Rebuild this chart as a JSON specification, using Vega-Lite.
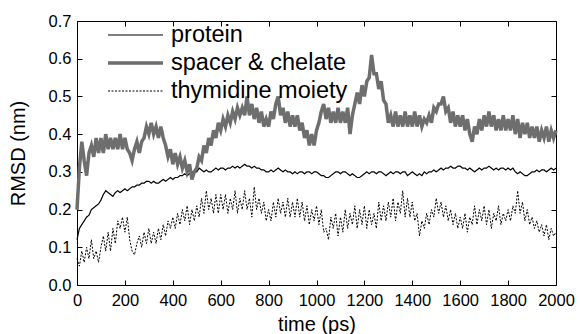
{
"$schema": "https://vega.github.io/schema/vega-lite/v6.json",
"width": 479, "height": 264,
"autosize": "none",
"padding": {"left": 77, "top": 21, "right": 24, "bottom": 49},
"config": {
  "view": {"stroke": "black", "strokeWidth": 1},
  "font": "Liberation Sans",
  "axis": {"grid": false, "domain": false, "tickSize": -5, "tickColor": "black", "tickWidth": 1,
           "labelFontSize": 16.5, "labelColor": "black", "labelFlush": false, "labelOverlap": false,
           "titleFontSize": 20, "titleFontWeight": "normal", "titleColor": "black"},
  "legend": {"orient": "none", "legendX": 29, "legendY": 2, "title": null, "symbolType": "stroke", "symbolSize": 3025,
             "labelFontSize": 23.5, "labelColor": "black", "labelOffset": 6, "rowPadding": 4, "clipHeight": 24, "padding": 0, "labelLimit": 0}
},
"data": {"values": [
{"t":0,"protein":0.12,"spacer & chelate":0.20,"thymidine moiety":0.07},
{"t":10,"protein":0.15,"spacer & chelate":0.31,"thymidine moiety":0.05},
{"t":20,"protein":0.16,"spacer & chelate":0.38,"thymidine moiety":0.09},
{"t":30,"protein":0.17,"spacer & chelate":0.33,"thymidine moiety":0.06},
{"t":40,"protein":0.18,"spacer & chelate":0.29,"thymidine moiety":0.10},
{"t":50,"protein":0.185,"spacer & chelate":0.35,"thymidine moiety":0.07},
{"t":60,"protein":0.20,"spacer & chelate":0.37,"thymidine moiety":0.12},
{"t":70,"protein":0.205,"spacer & chelate":0.34,"thymidine moiety":0.07},
{"t":80,"protein":0.21,"spacer & chelate":0.39,"thymidine moiety":0.09},
{"t":90,"protein":0.215,"spacer & chelate":0.35,"thymidine moiety":0.06},
{"t":100,"protein":0.225,"spacer & chelate":0.39,"thymidine moiety":0.10},
{"t":110,"protein":0.24,"spacer & chelate":0.35,"thymidine moiety":0.13},
{"t":120,"protein":0.25,"spacer & chelate":0.40,"thymidine moiety":0.09},
{"t":130,"protein":0.245,"spacer & chelate":0.36,"thymidine moiety":0.14},
{"t":140,"protein":0.24,"spacer & chelate":0.39,"thymidine moiety":0.09},
{"t":150,"protein":0.235,"spacer & chelate":0.36,"thymidine moiety":0.15},
{"t":160,"protein":0.245,"spacer & chelate":0.39,"thymidine moiety":0.11},
{"t":170,"protein":0.25,"spacer & chelate":0.36,"thymidine moiety":0.17},
{"t":180,"protein":0.245,"spacer & chelate":0.40,"thymidine moiety":0.15},
{"t":190,"protein":0.25,"spacer & chelate":0.36,"thymidine moiety":0.18},
{"t":200,"protein":0.255,"spacer & chelate":0.39,"thymidine moiety":0.14},
{"t":210,"protein":0.25,"spacer & chelate":0.36,"thymidine moiety":0.18},
{"t":220,"protein":0.255,"spacer & chelate":0.35,"thymidine moiety":0.12},
{"t":230,"protein":0.26,"spacer & chelate":0.33,"thymidine moiety":0.09},
{"t":240,"protein":0.26,"spacer & chelate":0.36,"thymidine moiety":0.08},
{"t":250,"protein":0.265,"spacer & chelate":0.38,"thymidine moiety":0.11},
{"t":260,"protein":0.265,"spacer & chelate":0.35,"thymidine moiety":0.13},
{"t":270,"protein":0.27,"spacer & chelate":0.38,"thymidine moiety":0.10},
{"t":280,"protein":0.27,"spacer & chelate":0.39,"thymidine moiety":0.14},
{"t":290,"protein":0.275,"spacer & chelate":0.42,"thymidine moiety":0.11},
{"t":300,"protein":0.275,"spacer & chelate":0.40,"thymidine moiety":0.15},
{"t":310,"protein":0.27,"spacer & chelate":0.43,"thymidine moiety":0.11},
{"t":320,"protein":0.275,"spacer & chelate":0.40,"thymidine moiety":0.14},
{"t":330,"protein":0.27,"spacer & chelate":0.42,"thymidine moiety":0.11},
{"t":340,"protein":0.27,"spacer & chelate":0.39,"thymidine moiety":0.15},
{"t":350,"protein":0.275,"spacer & chelate":0.42,"thymidine moiety":0.12},
{"t":360,"protein":0.28,"spacer & chelate":0.39,"thymidine moiety":0.16},
{"t":370,"protein":0.275,"spacer & chelate":0.37,"thymidine moiety":0.13},
{"t":380,"protein":0.28,"spacer & chelate":0.34,"thymidine moiety":0.17},
{"t":390,"protein":0.285,"spacer & chelate":0.36,"thymidine moiety":0.15},
{"t":400,"protein":0.28,"spacer & chelate":0.32,"thymidine moiety":0.18},
{"t":410,"protein":0.285,"spacer & chelate":0.35,"thymidine moiety":0.15},
{"t":420,"protein":0.285,"spacer & chelate":0.32,"thymidine moiety":0.19},
{"t":430,"protein":0.29,"spacer & chelate":0.34,"thymidine moiety":0.16},
{"t":440,"protein":0.29,"spacer & chelate":0.31,"thymidine moiety":0.20},
{"t":450,"protein":0.295,"spacer & chelate":0.33,"thymidine moiety":0.17},
{"t":460,"protein":0.29,"spacer & chelate":0.30,"thymidine moiety":0.21},
{"t":470,"protein":0.295,"spacer & chelate":0.32,"thymidine moiety":0.16},
{"t":480,"protein":0.30,"spacer & chelate":0.28,"thymidine moiety":0.20},
{"t":490,"protein":0.30,"spacer & chelate":0.30,"thymidine moiety":0.17},
{"t":500,"protein":0.30,"spacer & chelate":0.31,"thymidine moiety":0.21},
{"t":510,"protein":0.31,"spacer & chelate":0.34,"thymidine moiety":0.18},
{"t":520,"protein":0.305,"spacer & chelate":0.33,"thymidine moiety":0.23},
{"t":530,"protein":0.30,"spacer & chelate":0.37,"thymidine moiety":0.19},
{"t":540,"protein":0.305,"spacer & chelate":0.35,"thymidine moiety":0.25},
{"t":550,"protein":0.30,"spacer & chelate":0.39,"thymidine moiety":0.20},
{"t":560,"protein":0.30,"spacer & chelate":0.37,"thymidine moiety":0.23},
{"t":570,"protein":0.305,"spacer & chelate":0.41,"thymidine moiety":0.19},
{"t":580,"protein":0.31,"spacer & chelate":0.39,"thymidine moiety":0.24},
{"t":590,"protein":0.305,"spacer & chelate":0.43,"thymidine moiety":0.19},
{"t":600,"protein":0.31,"spacer & chelate":0.41,"thymidine moiety":0.24},
{"t":610,"protein":0.31,"spacer & chelate":0.44,"thymidine moiety":0.20},
{"t":620,"protein":0.305,"spacer & chelate":0.42,"thymidine moiety":0.24},
{"t":630,"protein":0.31,"spacer & chelate":0.45,"thymidine moiety":0.19},
{"t":640,"protein":0.31,"spacer & chelate":0.43,"thymidine moiety":0.23},
{"t":650,"protein":0.315,"spacer & chelate":0.46,"thymidine moiety":0.20},
{"t":660,"protein":0.31,"spacer & chelate":0.44,"thymidine moiety":0.25},
{"t":670,"protein":0.315,"spacer & chelate":0.47,"thymidine moiety":0.19},
{"t":680,"protein":0.31,"spacer & chelate":0.45,"thymidine moiety":0.23},
{"t":690,"protein":0.315,"spacer & chelate":0.47,"thymidine moiety":0.20},
{"t":700,"protein":0.32,"spacer & chelate":0.45,"thymidine moiety":0.25},
{"t":710,"protein":0.315,"spacer & chelate":0.50,"thymidine moiety":0.20},
{"t":720,"protein":0.315,"spacer & chelate":0.45,"thymidine moiety":0.23},
{"t":730,"protein":0.31,"spacer & chelate":0.48,"thymidine moiety":0.18},
{"t":740,"protein":0.315,"spacer & chelate":0.44,"thymidine moiety":0.26},
{"t":750,"protein":0.31,"spacer & chelate":0.47,"thymidine moiety":0.20},
{"t":760,"protein":0.31,"spacer & chelate":0.43,"thymidine moiety":0.23},
{"t":770,"protein":0.305,"spacer & chelate":0.46,"thymidine moiety":0.19},
{"t":780,"protein":0.305,"spacer & chelate":0.42,"thymidine moiety":0.22},
{"t":790,"protein":0.30,"spacer & chelate":0.44,"thymidine moiety":0.17},
{"t":800,"protein":0.30,"spacer & chelate":0.42,"thymidine moiety":0.20},
{"t":810,"protein":0.305,"spacer & chelate":0.46,"thymidine moiety":0.17},
{"t":820,"protein":0.30,"spacer & chelate":0.44,"thymidine moiety":0.22},
{"t":830,"protein":0.305,"spacer & chelate":0.48,"thymidine moiety":0.18},
{"t":840,"protein":0.31,"spacer & chelate":0.50,"thymidine moiety":0.23},
{"t":850,"protein":0.305,"spacer & chelate":0.45,"thymidine moiety":0.19},
{"t":860,"protein":0.30,"spacer & chelate":0.47,"thymidine moiety":0.22},
{"t":870,"protein":0.305,"spacer & chelate":0.43,"thymidine moiety":0.18},
{"t":880,"protein":0.30,"spacer & chelate":0.46,"thymidine moiety":0.23},
{"t":890,"protein":0.30,"spacer & chelate":0.42,"thymidine moiety":0.18},
{"t":900,"protein":0.295,"spacer & chelate":0.45,"thymidine moiety":0.22},
{"t":910,"protein":0.30,"spacer & chelate":0.42,"thymidine moiety":0.18},
{"t":920,"protein":0.295,"spacer & chelate":0.45,"thymidine moiety":0.23},
{"t":930,"protein":0.30,"spacer & chelate":0.41,"thymidine moiety":0.18},
{"t":940,"protein":0.30,"spacer & chelate":0.43,"thymidine moiety":0.22},
{"t":950,"protein":0.295,"spacer & chelate":0.39,"thymidine moiety":0.17},
{"t":960,"protein":0.30,"spacer & chelate":0.41,"thymidine moiety":0.21},
{"t":970,"protein":0.30,"spacer & chelate":0.37,"thymidine moiety":0.16},
{"t":980,"protein":0.295,"spacer & chelate":0.40,"thymidine moiety":0.20},
{"t":990,"protein":0.30,"spacer & chelate":0.37,"thymidine moiety":0.17},
{"t":1000,"protein":0.30,"spacer & chelate":0.41,"thymidine moiety":0.21},
{"t":1010,"protein":0.295,"spacer & chelate":0.43,"thymidine moiety":0.16},
{"t":1020,"protein":0.29,"spacer & chelate":0.46,"thymidine moiety":0.20},
{"t":1030,"protein":0.29,"spacer & chelate":0.48,"thymidine moiety":0.14},
{"t":1040,"protein":0.285,"spacer & chelate":0.44,"thymidine moiety":0.15},
{"t":1050,"protein":0.285,"spacer & chelate":0.47,"thymidine moiety":0.12},
{"t":1060,"protein":0.29,"spacer & chelate":0.43,"thymidine moiety":0.18},
{"t":1070,"protein":0.295,"spacer & chelate":0.46,"thymidine moiety":0.15},
{"t":1080,"protein":0.30,"spacer & chelate":0.43,"thymidine moiety":0.19},
{"t":1090,"protein":0.30,"spacer & chelate":0.47,"thymidine moiety":0.13},
{"t":1100,"protein":0.295,"spacer & chelate":0.43,"thymidine moiety":0.18},
{"t":1110,"protein":0.30,"spacer & chelate":0.46,"thymidine moiety":0.14},
{"t":1120,"protein":0.30,"spacer & chelate":0.43,"thymidine moiety":0.20},
{"t":1130,"protein":0.295,"spacer & chelate":0.47,"thymidine moiety":0.15},
{"t":1140,"protein":0.29,"spacer & chelate":0.40,"thymidine moiety":0.19},
{"t":1150,"protein":0.295,"spacer & chelate":0.45,"thymidine moiety":0.16},
{"t":1160,"protein":0.29,"spacer & chelate":0.48,"thymidine moiety":0.21},
{"t":1170,"protein":0.285,"spacer & chelate":0.51,"thymidine moiety":0.15},
{"t":1180,"protein":0.285,"spacer & chelate":0.48,"thymidine moiety":0.20},
{"t":1190,"protein":0.29,"spacer & chelate":0.53,"thymidine moiety":0.16},
{"t":1200,"protein":0.295,"spacer & chelate":0.50,"thymidine moiety":0.21},
{"t":1210,"protein":0.30,"spacer & chelate":0.54,"thymidine moiety":0.15},
{"t":1220,"protein":0.295,"spacer & chelate":0.55,"thymidine moiety":0.20},
{"t":1230,"protein":0.30,"spacer & chelate":0.61,"thymidine moiety":0.16},
{"t":1240,"protein":0.30,"spacer & chelate":0.56,"thymidine moiety":0.19},
{"t":1250,"protein":0.295,"spacer & chelate":0.56,"thymidine moiety":0.15},
{"t":1260,"protein":0.30,"spacer & chelate":0.52,"thymidine moiety":0.22},
{"t":1270,"protein":0.30,"spacer & chelate":0.54,"thymidine moiety":0.17},
{"t":1280,"protein":0.295,"spacer & chelate":0.49,"thymidine moiety":0.21},
{"t":1290,"protein":0.29,"spacer & chelate":0.48,"thymidine moiety":0.17},
{"t":1300,"protein":0.295,"spacer & chelate":0.43,"thymidine moiety":0.22},
{"t":1310,"protein":0.30,"spacer & chelate":0.45,"thymidine moiety":0.18},
{"t":1320,"protein":0.295,"spacer & chelate":0.42,"thymidine moiety":0.23},
{"t":1330,"protein":0.30,"spacer & chelate":0.46,"thymidine moiety":0.17},
{"t":1340,"protein":0.30,"spacer & chelate":0.42,"thymidine moiety":0.22},
{"t":1350,"protein":0.295,"spacer & chelate":0.45,"thymidine moiety":0.19},
{"t":1360,"protein":0.30,"spacer & chelate":0.42,"thymidine moiety":0.25},
{"t":1370,"protein":0.30,"spacer & chelate":0.46,"thymidine moiety":0.18},
{"t":1380,"protein":0.29,"spacer & chelate":0.42,"thymidine moiety":0.23},
{"t":1390,"protein":0.295,"spacer & chelate":0.45,"thymidine moiety":0.18},
{"t":1400,"protein":0.30,"spacer & chelate":0.42,"thymidine moiety":0.22},
{"t":1410,"protein":0.295,"spacer & chelate":0.46,"thymidine moiety":0.17},
{"t":1420,"protein":0.29,"spacer & chelate":0.42,"thymidine moiety":0.19},
{"t":1430,"protein":0.295,"spacer & chelate":0.45,"thymidine moiety":0.13},
{"t":1440,"protein":0.29,"spacer & chelate":0.42,"thymidine moiety":0.17},
{"t":1450,"protein":0.30,"spacer & chelate":0.44,"thymidine moiety":0.15},
{"t":1460,"protein":0.295,"spacer & chelate":0.43,"thymidine moiety":0.19},
{"t":1470,"protein":0.30,"spacer & chelate":0.45,"thymidine moiety":0.16},
{"t":1480,"protein":0.30,"spacer & chelate":0.43,"thymidine moiety":0.20},
{"t":1490,"protein":0.305,"spacer & chelate":0.47,"thymidine moiety":0.18},
{"t":1500,"protein":0.30,"spacer & chelate":0.46,"thymidine moiety":0.23},
{"t":1510,"protein":0.305,"spacer & chelate":0.48,"thymidine moiety":0.19},
{"t":1520,"protein":0.31,"spacer & chelate":0.48,"thymidine moiety":0.22},
{"t":1530,"protein":0.305,"spacer & chelate":0.50,"thymidine moiety":0.18},
{"t":1540,"protein":0.31,"spacer & chelate":0.46,"thymidine moiety":0.21},
{"t":1550,"protein":0.31,"spacer & chelate":0.47,"thymidine moiety":0.17},
{"t":1560,"protein":0.315,"spacer & chelate":0.43,"thymidine moiety":0.20},
{"t":1570,"protein":0.31,"spacer & chelate":0.46,"thymidine moiety":0.16},
{"t":1580,"protein":0.31,"spacer & chelate":0.42,"thymidine moiety":0.19},
{"t":1590,"protein":0.315,"spacer & chelate":0.45,"thymidine moiety":0.15},
{"t":1600,"protein":0.315,"spacer & chelate":0.42,"thymidine moiety":0.18},
{"t":1610,"protein":0.31,"spacer & chelate":0.45,"thymidine moiety":0.15},
{"t":1620,"protein":0.31,"spacer & chelate":0.41,"thymidine moiety":0.19},
{"t":1630,"protein":0.305,"spacer & chelate":0.44,"thymidine moiety":0.14},
{"t":1640,"protein":0.31,"spacer & chelate":0.40,"thymidine moiety":0.18},
{"t":1650,"protein":0.305,"spacer & chelate":0.38,"thymidine moiety":0.16},
{"t":1660,"protein":0.30,"spacer & chelate":0.42,"thymidine moiety":0.21},
{"t":1670,"protein":0.305,"spacer & chelate":0.40,"thymidine moiety":0.16},
{"t":1680,"protein":0.31,"spacer & chelate":0.44,"thymidine moiety":0.20},
{"t":1690,"protein":0.305,"spacer & chelate":0.41,"thymidine moiety":0.17},
{"t":1700,"protein":0.31,"spacer & chelate":0.45,"thymidine moiety":0.21},
{"t":1710,"protein":0.31,"spacer & chelate":0.42,"thymidine moiety":0.16},
{"t":1720,"protein":0.315,"spacer & chelate":0.46,"thymidine moiety":0.20},
{"t":1730,"protein":0.31,"spacer & chelate":0.42,"thymidine moiety":0.15},
{"t":1740,"protein":0.305,"spacer & chelate":0.45,"thymidine moiety":0.19},
{"t":1750,"protein":0.31,"spacer & chelate":0.41,"thymidine moiety":0.17},
{"t":1760,"protein":0.305,"spacer & chelate":0.44,"thymidine moiety":0.21},
{"t":1770,"protein":0.31,"spacer & chelate":0.41,"thymidine moiety":0.16},
{"t":1780,"protein":0.31,"spacer & chelate":0.45,"thymidine moiety":0.19},
{"t":1790,"protein":0.305,"spacer & chelate":0.41,"thymidine moiety":0.17},
{"t":1800,"protein":0.31,"spacer & chelate":0.44,"thymidine moiety":0.20},
{"t":1810,"protein":0.305,"spacer & chelate":0.41,"thymidine moiety":0.17},
{"t":1820,"protein":0.31,"spacer & chelate":0.45,"thymidine moiety":0.21},
{"t":1830,"protein":0.30,"spacer & chelate":0.40,"thymidine moiety":0.19},
{"t":1840,"protein":0.295,"spacer & chelate":0.44,"thymidine moiety":0.25},
{"t":1850,"protein":0.30,"spacer & chelate":0.39,"thymidine moiety":0.19},
{"t":1860,"protein":0.295,"spacer & chelate":0.43,"thymidine moiety":0.22},
{"t":1870,"protein":0.29,"spacer & chelate":0.40,"thymidine moiety":0.17},
{"t":1880,"protein":0.29,"spacer & chelate":0.43,"thymidine moiety":0.20},
{"t":1890,"protein":0.295,"spacer & chelate":0.39,"thymidine moiety":0.16},
{"t":1900,"protein":0.30,"spacer & chelate":0.42,"thymidine moiety":0.18},
{"t":1910,"protein":0.30,"spacer & chelate":0.39,"thymidine moiety":0.15},
{"t":1920,"protein":0.305,"spacer & chelate":0.42,"thymidine moiety":0.17},
{"t":1930,"protein":0.30,"spacer & chelate":0.38,"thymidine moiety":0.14},
{"t":1940,"protein":0.305,"spacer & chelate":0.41,"thymidine moiety":0.16},
{"t":1950,"protein":0.305,"spacer & chelate":0.39,"thymidine moiety":0.13},
{"t":1960,"protein":0.30,"spacer & chelate":0.42,"thymidine moiety":0.16},
{"t":1970,"protein":0.305,"spacer & chelate":0.38,"thymidine moiety":0.12},
{"t":1980,"protein":0.31,"spacer & chelate":0.41,"thymidine moiety":0.15},
{"t":1990,"protein":0.305,"spacer & chelate":0.39,"thymidine moiety":0.13},
{"t":2000,"protein":0.31,"spacer & chelate":0.41,"thymidine moiety":0.14}
]},
"transform": [{"fold": ["protein", "spacer & chelate", "thymidine moiety"], "as": ["series", "rmsd"]}],
"layer": [
  {
    "mark": {"type": "line", "strokeJoin": "miter"},
    "encoding": {
      "x": {"field": "t", "type": "quantitative", "scale": {"domain": [0, 2000], "nice": false},
            "axis": {"orient": "bottom", "title": "time (ps)", "values": [0,200,400,600,800,1000,1200,1400,1600,1800,2000], "format": "d", "labelPadding": 12, "titlePadding": 6}},
      "y": {"field": "rmsd", "type": "quantitative", "scale": {"domain": [0, 0.7], "nice": false, "zero": false},
            "axis": {"orient": "left", "title": "RMSD (nm)", "values": [0,0.1,0.2,0.3,0.4,0.5,0.6,0.7], "format": ".1f", "labelPadding": 11, "titlePadding": 20}},
      "color": {"field": "series", "type": "nominal",
                "scale": {"domain": ["protein", "spacer & chelate", "thymidine moiety"], "range": ["#000000", "#6e6e6e", "#000000"]}},
      "strokeWidth": {"field": "series", "type": "ordinal",
                "scale": {"type": "ordinal", "domain": ["protein", "spacer & chelate", "thymidine moiety"], "range": [1.2, 3.5, 1]}},
      "strokeDash": {"field": "series", "type": "nominal",
                "scale": {"domain": ["protein", "spacer & chelate", "thymidine moiety"], "range": [[1, 0], [1, 0], [2, 1.5]]}}
    }
  },
  {
    "mark": {"type": "line", "opacity": 0},
    "encoding": {
      "x": {"field": "t", "type": "quantitative", "scale": {"domain": [0, 2000], "nice": false},
            "axis": {"orient": "top", "title": null, "labels": false, "values": [0,200,400,600,800,1000,1200,1400,1600,1800,2000]}},
      "y": {"field": "rmsd", "type": "quantitative", "scale": {"domain": [0, 0.7], "nice": false, "zero": false},
            "axis": {"orient": "right", "title": null, "labels": false, "values": [0,0.1,0.2,0.3,0.4,0.5,0.6,0.7]}}
    }
  }
],
"resolve": {"axis": {"x": "independent", "y": "independent"}}
}
